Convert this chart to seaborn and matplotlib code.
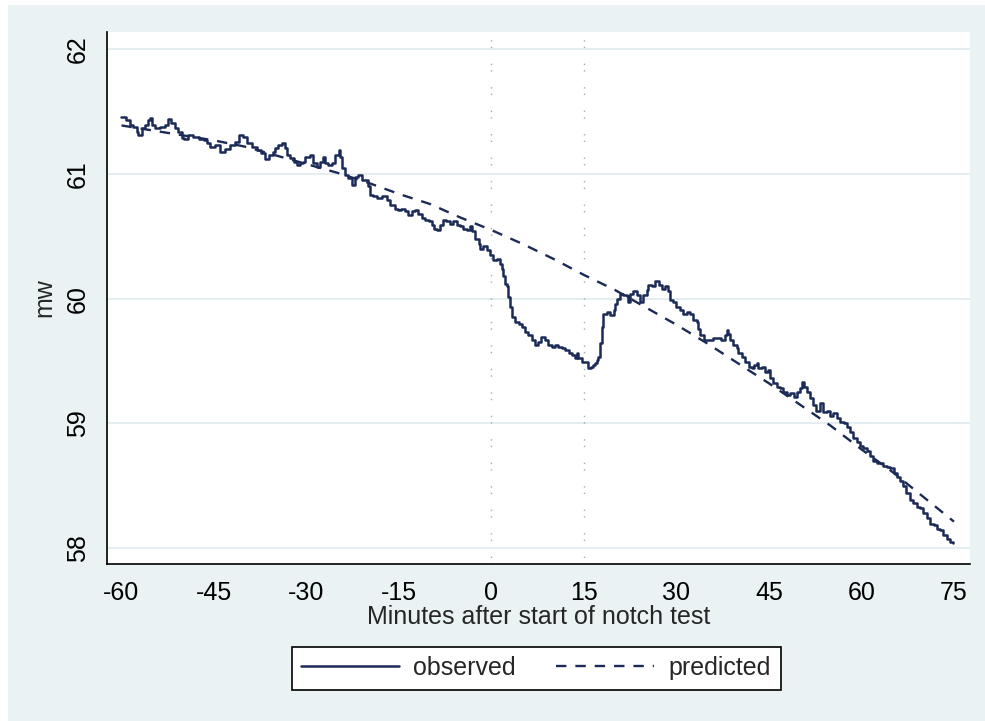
import matplotlib
matplotlib.use("Agg")
import matplotlib.pyplot as plt
import seaborn as sns
from matplotlib.patches import Rectangle

# Observed megawatt output (minutes relative to the start of the notch test)
minutes_obs = [
    -60.0, -59.2, -58.6, -58.1, -57.5, -57.3, -56.7, -56.2, -55.7, -55.4,
    -55.1, -54.6, -53.8, -52.9, -52.4, -51.9, -51.3, -50.8, -50.2, -49.9,
    -49.2, -48.4, -47.5, -46.7, -46.2, -45.6, -44.8, -44.0, -43.2, -42.4,
    -41.6, -40.9, -40.3, -39.7, -38.9, -38.1, -37.3, -36.7, -36.0, -35.4,
    -35.1, -34.6, -34.0, -33.5, -33.2, -32.7, -32.1, -31.6, -31.1, -30.5,
    -30.2, -29.4, -28.9, -28.3, -27.8, -27.4, -27.0, -26.5, -25.9, -25.4,
    -24.8, -24.6, -24.3, -23.8, -23.2, -22.7, -22.1, -21.6, -21.0, -20.5,
    -20.0, -19.7, -19.2, -18.6, -17.8, -17.0, -16.5, -15.6, -15.1, -14.6,
    -14.0, -13.5, -12.9, -12.4, -11.9, -11.3, -10.8, -10.2, -9.7, -9.4,
    -8.9, -8.3, -7.8, -7.3, -6.7, -6.2, -5.6, -5.1, -4.6, -4.0,
    -3.5, -3.2, -2.7, -2.1, -1.9, -1.3, -0.8, -0.2, 0.3, 0.9,
    1.4, 1.7, 1.9, 2.2, 2.5, 2.7, 3.0, 3.3, 3.8, 4.4,
    4.9, 5.4, 6.0, 6.5, 7.1, 7.6, 8.1, 8.7, 9.2, 9.8,
    10.3, 10.8, 11.4, 11.9, 12.5, 13.0, 13.6, 13.8, 14.1, 14.6,
    15.2, 15.7, 16.2, 16.5, 16.8, 17.1, 17.3, 17.6, 17.9, 18.1,
    18.7, 19.2, 19.8, 20.0, 20.3, 20.8, 21.4, 21.9, 22.2, 22.5,
    23.0, 23.6, 24.1, 24.6, 25.2, 25.4, 26.0, 26.5, 27.1, 27.6,
    28.1, 28.7, 29.0, 29.5, 30.0, 30.6, 31.1, 31.7, 32.2, 32.7,
    33.3, 33.5, 33.8, 34.4, 35.2, 36.0, 36.8, 37.3, 37.9, 38.2,
    38.4, 38.7, 39.2, 39.8, 40.0, 40.6, 41.1, 41.7, 42.2, 42.5,
    43.0, 43.3, 43.8, 44.4, 44.9, 45.2, 45.7, 46.3, 46.8, 47.3,
    47.9, 48.4, 49.0, 49.5, 50.0, 50.3, 50.6, 51.1, 51.7, 52.2,
    52.7, 53.3, 53.8, 54.4, 54.9, 55.4, 56.0, 56.5, 57.1, 57.6,
    58.1, 58.7, 59.2, 59.8, 60.3, 60.9, 61.4, 61.9, 62.5, 63.0,
    63.5, 64.1, 64.6, 65.2, 65.7, 66.3, 66.8, 67.3, 67.9, 68.4,
    69.0, 69.5, 70.0, 70.6, 71.1, 71.7, 72.2, 72.7, 73.3, 73.8,
    74.4, 74.9,
]
mw_obs = [
    61.46, 61.43, 61.39, 61.38, 61.34, 61.31, 61.37, 61.39, 61.43, 61.45,
    61.39, 61.37, 61.38, 61.39, 61.44, 61.41, 61.37, 61.34, 61.29, 61.28,
    61.31, 61.30, 61.28, 61.27, 61.25, 61.22, 61.23, 61.18, 61.20, 61.23,
    61.26, 61.31, 61.30, 61.25, 61.22, 61.19, 61.17, 61.12, 61.15, 61.18,
    61.21, 61.23, 61.25, 61.21, 61.15, 61.13, 61.10, 61.07, 61.09, 61.10,
    61.14, 61.15, 61.09, 61.06, 61.10, 61.14, 61.09, 61.07, 61.09, 61.15,
    61.19, 61.14, 61.05, 60.99, 60.97, 60.91, 60.98, 60.99, 60.95, 60.95,
    60.90, 60.83, 60.82, 60.81, 60.82, 60.79, 60.75, 60.72, 60.71, 60.72,
    60.70, 60.67, 60.70, 60.71, 60.68, 60.65, 60.63, 60.62, 60.59, 60.56,
    60.55, 60.59, 60.63, 60.62, 60.60, 60.62, 60.59, 60.58, 60.56, 60.55,
    60.58, 60.54, 60.48, 60.44, 60.40, 60.42, 60.39, 60.35, 60.31, 60.32,
    60.28, 60.24, 60.18, 60.12, 60.10, 60.01, 59.93, 59.85, 59.81, 59.80,
    59.77, 59.73, 59.71, 59.67, 59.63, 59.65, 59.69, 59.67, 59.63, 59.61,
    59.63, 59.61, 59.60, 59.59, 59.56, 59.55, 59.52, 59.56, 59.52, 59.49,
    59.49, 59.44, 59.45, 59.47, 59.48, 59.51, 59.53, 59.64, 59.77, 59.88,
    59.89, 59.87, 59.91, 59.96, 60.00, 60.04, 60.03, 60.02, 59.97, 60.04,
    60.06, 60.03, 59.97, 60.03, 60.07, 60.11, 60.10, 60.14, 60.11, 60.08,
    60.10, 60.06, 59.99, 59.97, 59.93, 59.91, 59.88, 59.89, 59.88, 59.83,
    59.81, 59.76, 59.71, 59.67, 59.67, 59.68, 59.68, 59.67, 59.71, 59.75,
    59.72, 59.67, 59.63, 59.60, 59.56, 59.53, 59.49, 59.45, 59.44, 59.47,
    59.48, 59.44, 59.45, 59.41, 59.43, 59.36, 59.32, 59.29, 59.28, 59.25,
    59.23, 59.24, 59.21, 59.25, 59.28, 59.33, 59.29, 59.25, 59.20, 59.15,
    59.10, 59.16, 59.09, 59.10, 59.06, 59.08, 59.04, 59.01, 59.00, 58.97,
    58.93, 58.88, 58.85, 58.82, 58.80, 58.78, 58.74, 58.70, 58.68, 58.68,
    58.66, 58.65, 58.64, 58.60, 58.57, 58.54, 58.50, 58.44, 58.38, 58.36,
    58.33, 58.32, 58.28, 58.24, 58.19, 58.18, 58.15, 58.14, 58.10, 58.07,
    58.05, 58.04,
]

# Model prediction, read every 5 minutes
minutes_pred = [-60, -55, -50, -45, -40, -35, -30, -25, -20, -15, -10, -5, 0,
                5, 10, 15, 20, 25, 30, 35, 40, 45, 50, 55, 60, 65, 70, 75]
mw_pred = [61.39, 61.35, 61.31, 61.27, 61.22, 61.15, 61.08, 61.01, 60.93,
           60.84, 60.76, 60.65, 60.55, 60.44, 60.32, 60.19, 60.07, 59.93,
           59.79, 59.64, 59.48, 59.32, 59.15, 58.98, 58.79, 58.61, 58.41,
           58.21]

x_ticks = [-60, -45, -30, -15, 0, 15, 30, 45, 60, 75]
y_ticks = [58, 59, 60, 61, 62]
test_marks = [0, 15]

sns.set_style("white")
plt.rcParams["font.family"] = ["Liberation Sans", "DejaVu Sans"]

W, H = 985, 721
navy = "#1b2a56"
outer_bg = "#EAF2F3"
grid_col = "#E2ECEE"
fs = 18

fig = plt.figure(figsize=(W / 100, H / 100), dpi=100, facecolor="white")
fig.patches.append(Rectangle((8 / W, 0), 1 - 8 / W, 1 - 5 / H,
                             transform=fig.transFigure, facecolor=outer_bg,
                             edgecolor="none", zorder=-10))

ax = fig.add_axes([107 / W, 1 - 564 / H, (970 - 107) / W, (564 - 32) / H])
ax.set_facecolor("white")

sns.lineplot(x=minutes_obs, y=mw_obs, ax=ax, color=navy, lw=1.8,
             drawstyle="steps-post", label="observed",
             estimator=None, sort=False)
sns.lineplot(x=minutes_pred, y=mw_pred, ax=ax, color=navy, lw=1.7,
             linestyle=(0, (4.4, 3.8)), label="predicted",
             estimator=None, sort=False)

for m in test_marks:
    ax.axvline(m, color="#A9A9A9", lw=1.0, ls=(0, (1, 3.7, 1, 11.2)), zorder=1)

ax.set_xlim(-62.35, 77.6)
ax.set_ylim(57.87, 62.14)
ax.set_xticks(x_ticks)
ax.set_yticks(y_ticks)
ax.set_xticklabels([str(t) for t in x_ticks])
ax.set_yticklabels([str(t) for t in y_ticks], rotation=90, va="center")
ax.yaxis.grid(True, color=grid_col, lw=1.3)
ax.xaxis.grid(False)
ax.set_axisbelow(True)

for side in ("top", "right"):
    ax.spines[side].set_visible(False)
for side in ("left", "bottom"):
    ax.spines[side].set_color("black")
    ax.spines[side].set_linewidth(1.2)

ax.tick_params(axis="both", direction="out", length=6.5, width=1.2,
               color="black", labelsize=fs, labelcolor="black", pad=6)
ax.tick_params(axis="x", pad=6)

ax.set_xlabel("Minutes after start of notch test", fontsize=fs, labelpad=0)
ax.set_ylabel("mw", fontsize=fs, labelpad=7)

handles, labels = ax.get_legend_handles_labels()
ax.get_legend().remove()
leg = fig.legend(handles, labels, loc="center",
                 bbox_to_anchor=(536 / W, 1 - 668 / H), ncol=2, fontsize=fs,
                 frameon=True, fancybox=False, edgecolor="black",
                 facecolor="white", framealpha=1, handlelength=3.9,
                 handletextpad=0.6, columnspacing=1.6, borderpad=0.38)
leg.get_frame().set_linewidth(1.2)

fig.savefig("out.png", dpi=100, facecolor=fig.get_facecolor())
